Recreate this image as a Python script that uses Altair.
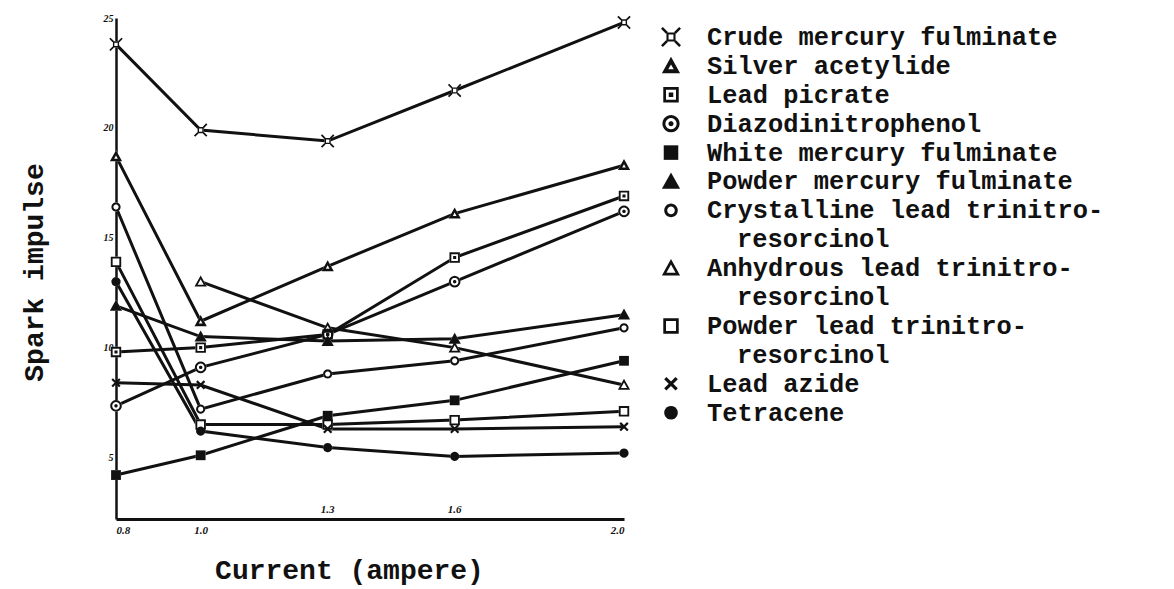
import math
import altair as alt
import pandas as pd

# ---------------- data ----------------
currents = [0.8, 1.0, 1.3, 1.6, 2.0]
tick_values = [0.8, 1.0, 1.3, 1.6, 2.0]
upper_tick_labels = [1.3, 1.6]
y_ticks = [5, 10, 15, 20, 25]

names = [
    "Crude mercury fulminate",
    "Silver acetylide",
    "Lead picrate",
    "Diazodinitrophenol",
    "White mercury fulminate",
    "Powder mercury fulminate",
    "Crystalline lead trinitroresorcinol",
    "Anhydrous lead trinitroresorcinol",
    "Powder lead trinitroresorcinol",
    "Lead azide",
    "Tetracene",
]

crude_mf = [23.8, 19.9, 19.4, 21.7, 24.8]
silver_acetylide = [18.7, 11.2, 13.7, 16.1, 18.3]
lead_picrate = [9.8, 10.0, 10.6, 14.1, 16.9]
diazo = [7.35, 9.1, 10.6, 13.0, 16.2]
white_mf = [4.2, 5.1, 6.9, 7.6, 9.4]
powder_mf = [11.9, 10.5, 10.3, 10.4, 11.5]
crystalline_ltnr = [16.4, 7.2, 8.8, 9.4, 10.9]
anhydrous_ltnr = [None, 13.0, 10.9, 10.0, 8.3]
powder_ltnr = [13.9, 6.5, 6.5, 6.7, 7.1]
lead_azide = [8.4, 8.3, 6.3, 6.3, 6.4]
tetracene = [13.0, 6.2, 5.45, 5.05, 5.2]

series_values = [crude_mf, silver_acetylide, lead_picrate, diazo, white_mf, powder_mf,
                 crystalline_ltnr, anhydrous_ltnr, powder_ltnr, lead_azide, tetracene]

legend_lines = [
    ["Crude mercury fulminate"],
    ["Silver acetylide"],
    ["Lead picrate"],
    ["Diazodinitrophenol"],
    ["White mercury fulminate"],
    ["Powder mercury fulminate"],
    ["Crystalline lead trinitro-", "resorcinol"],
    ["Anhydrous lead trinitro-", "resorcinol"],
    ["Powder lead trinitro-", "resorcinol"],
    ["Lead azide"],
    ["Tetracene"],
]

# ---------------- marker shapes (SVG paths in a -1..1 box) ----------------
def P(pts):
    return "M" + "L".join(f"{x:.3f},{y:.3f}" for x, y in pts) + "Z"

def circ(r, rev=False, n=20):
    pts = [(r * math.cos(2 * math.pi * k / n), r * math.sin(2 * math.pi * k / n)) for k in range(n)]
    return pts[::-1] if rev else pts

def sq(s, rev=False):
    pts = [(-s, -s), (s, -s), (s, s), (-s, s)]
    return pts[::-1] if rev else pts

TRI = [(0.0, -1.0), (1.0, 0.8), (-1.0, 0.8)]

def tri_inner(k):
    cx, cy = 0.0, 0.2
    pts = [(cx + k * (x - cx), cy + k * (y - cy)) for x, y in TRI]
    return pts[::-1]

def rot(pts, n):
    out = pts
    for _ in range(n):
        out = [(-y, x) for x, y in out]
    return out

d = 0.1
bar = [(0.45 + d, 0.45 - d), (1.0 + d, 1.0 - d), (1.0 - d, 1.0 + d), (0.45 - d, 0.45 + d)]
crude_path = P(sq(0.5)) + P(sq(0.27, True)) + "".join(P(rot(bar, i)) for i in range(4))
xbar1 = [(-0.75, -0.5), (-0.5, -0.75), (0.75, 0.5), (0.5, 0.75)]
xbar2 = [(0.5, -0.75), (0.75, -0.5), (-0.5, 0.75), (-0.75, 0.5)]

shape_paths = [
    crude_path,
    P(TRI) + P(tri_inner(0.3)),
    P(sq(0.85)) + P(sq(0.55, True)) + P(sq(0.25)),
    P(circ(0.95)) + P(circ(0.62, True)) + P(circ(0.28)),
    P(sq(0.8)),
    P(TRI),
    P(circ(0.75)) + P(circ(0.42, True)),
    P(TRI) + P(tri_inner(0.5)),
    P(sq(0.85)) + P(sq(0.55, True)),
    P(xbar1) + P(xbar2),
    P(circ(0.75)),
]
silhouettes = [
    P(sq(0.5)), P(TRI), P(sq(0.85)), P(circ(0.95)), P(sq(0.8)), P(TRI),
    P(circ(0.75)), P(TRI), P(sq(0.85)), P(sq(0.01)), P(circ(0.75)),
]

# ---------------- tables ----------------
rows = []
for nm, vals in zip(names, series_values):
    for c, v in zip(currents, vals):
        if v is not None:
            rows.append({"series": nm, "current": c, "impulse": v})
df = pd.DataFrame(rows)

sym_rows, text_rows = [], []
r = 0
for nm, lines in zip(names, legend_lines):
    sym_rows.append({"series": nm, "row": r})
    for i, ln in enumerate(lines):
        text_rows.append({"line": ln, "row": r + i, "cont": i > 0})
    r += len(lines)
sym_df = pd.DataFrame(sym_rows)
text_df = pd.DataFrame(text_rows)
upper_df = pd.DataFrame({"current": upper_tick_labels, "label": [f"{v:.1f}" for v in upper_tick_labels]})

# ---------------- chart ----------------
W, H = 508, 501
MONO = "Liberation Mono"
INK = "#111111"
FS = 28
LFS = 25.4

y_scale = alt.Scale(domain=[2.2, 25], nice=False, zero=False)
x_scale = alt.Scale(domain=[0.8, 2.0], nice=False, zero=False)

x_enc = alt.X(
    "current:Q", scale=x_scale,
    axis=alt.Axis(
        values=tick_values, ticks=False, grid=False,
        labelExpr="(datum.value > 1.25 && datum.value < 1.65) ? '' : format(datum.value, '.1f')",
        labelFont="Liberation Serif", labelFontStyle="italic", labelFontWeight="bold",
        labelFontSize=11, labelColor=INK, labelPadding=5,
        domainColor=INK, domainWidth=3,
        title="Current (ampere)", titleFont=MONO, titleFontSize=FS, titleFontWeight="bold",
        titleColor=INK, titleX=233, titleY=51, titleAlign="center", titleBaseline="middle",
    ),
)

lines = alt.Chart(df).mark_line(color=INK, strokeWidth=3).encode(
    x=x_enc,
    y=alt.Y(
        "impulse:Q", scale=y_scale,
        axis=alt.Axis(
            values=y_ticks, ticks=False, grid=False,
            labelFont="Liberation Serif", labelFontStyle="italic", labelFontWeight="bold",
            labelFontSize=10, labelColor=INK, labelPadding=3,
            domainColor=INK, domainWidth=2.5,
            title="Spark impulse", titleFont=MONO, titleFontSize=FS, titleFontWeight="bold",
            titleColor=INK, titleX=-82, titleY=254, titleAlign="center", titleBaseline="middle",
        ),
    ),
    detail="series:N",
)

white_pts = alt.Chart(df).mark_point(filled=True, color="white", opacity=1, size=150).encode(
    x=alt.X("current:Q", scale=x_scale),
    y=alt.Y("impulse:Q", scale=y_scale, axis=None),
    shape=alt.Shape("series:N", scale=alt.Scale(domain=names, range=silhouettes), legend=None),
)

pts = alt.Chart(df).mark_point(filled=True, color=INK, opacity=1, size=150).encode(
    x=alt.X("current:Q", scale=x_scale),
    y=alt.Y("impulse:Q", scale=y_scale, axis=None),
    shape=alt.Shape("series:N", scale=alt.Scale(domain=names, range=shape_paths), legend=None),
)

upper_labels = alt.Chart(upper_df).mark_text(
    font="Liberation Serif", fontStyle="italic", fontWeight="bold", fontSize=11,
    color=INK, baseline="middle", align="center",
).encode(x=alt.X("current:Q", scale=x_scale), y=alt.value(H - 9), text="label:N")

row_scale = alt.Scale(domain=[-0.657, H / 28.9 - 0.657], reverse=True, nice=False, zero=False)

leg_pts = alt.Chart(sym_df).mark_point(filled=True, color=INK, opacity=1, size=330).encode(
    x=alt.value(555),
    y=alt.Y("row:Q", scale=row_scale, axis=None),
    shape=alt.Shape("series:N", scale=alt.Scale(domain=names, range=shape_paths), legend=None),
)

leg_text_main = alt.Chart(text_df).transform_filter("!datum.cont").mark_text(
    font=MONO, fontSize=LFS, fontWeight="bold", color=INK, align="left", baseline="middle",
).encode(x=alt.value(591), y=alt.Y("row:Q", scale=row_scale, axis=None), text="line:N")

leg_text_cont = alt.Chart(text_df).transform_filter("datum.cont").mark_text(
    font=MONO, fontSize=LFS, fontWeight="bold", color=INK, align="left", baseline="middle",
).encode(x=alt.value(621), y=alt.Y("row:Q", scale=row_scale, axis=None), text="line:N")

chart = alt.layer(
    lines, white_pts, pts, upper_labels, leg_pts, leg_text_main, leg_text_cont
).resolve_scale(
    y="independent", shape="independent"
).properties(
    width=W, height=H,
    padding={"left": 12, "top": 5, "right": 5, "bottom": 5},
    background="white",
).configure_view(stroke=None)

chart.save("out.html", embed_options={"renderer": "svg", "actions": False})
